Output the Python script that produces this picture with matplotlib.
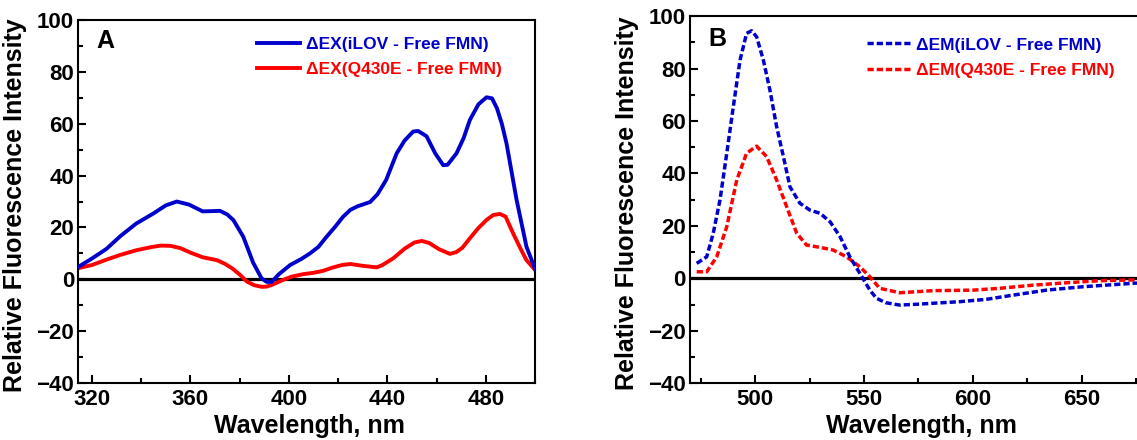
import matplotlib
matplotlib.use("Agg")
import matplotlib.pyplot as plt
from matplotlib.ticker import MultipleLocator

plt.rcParams['font.family'] = ['Liberation Sans', 'DejaVu Sans']
plt.rcParams['font.weight'] = 'bold'

# panel A: excitation difference spectra
ex_wl_ilov = [314.5, 320, 326, 331.5, 338, 345, 350, 354.5, 359.5, 365, 369, 372, 375,
              377.5, 381.5, 385.5, 388.9, 391, 393, 396, 400.5, 405, 408.6, 412, 415.3,
              419, 422, 425, 428, 433, 436, 439.5, 443.8, 447, 450.5, 452.5, 455.9,
              459.5, 462.7, 464.5, 468.1, 471, 473.5, 477, 480.3, 482.5, 484.5, 486.5,
              488.4, 492.5, 496.5, 500]
ex_ilov = [4.8, 8.0, 11.8, 16.6, 21.5, 25.4, 28.5, 30.0, 28.8, 26.2, 26.3, 26.4, 25.0,
           22.8, 16.4, 6.4, 0.4, -1.0, -1.0, 2.0, 5.5, 7.8, 10.0, 12.5, 16.4,
           20.5, 24.1, 26.8, 28.2, 29.8, 32.8, 38.3, 48.6, 53.5, 57.0, 57.2, 55.2,
           48.5, 44.0, 44.2, 48.6, 54.5, 61.4, 67.5, 70.2, 69.8, 66.0, 60.0,
           52.4, 30.6, 12.6, 4.0]

ex_wl_q430e = [314.5, 320, 326, 331.5, 338, 344, 348, 352, 356, 360, 365, 370.7, 374,
               377, 380.2, 383, 386, 389, 391, 393, 397.5, 401, 405.9, 410, 414, 418,
               422, 425, 430, 435.7, 438, 442.4, 447, 451, 454, 457, 461, 465.4, 468,
               470.5, 473.5, 477, 480.3, 483, 485.7, 488, 491.1, 494, 496.5, 500]
ex_q430e = [4.3, 5.5, 7.6, 9.4, 11.2, 12.4, 13.0, 12.9, 12.0, 10.3, 8.5, 7.4, 6.0,
            4.2, 1.7, -0.9, -2.3, -2.9, -2.8, -2.2, -0.3, 1.0, 2.0, 2.5, 3.3, 4.6,
            5.6, 5.9, 5.2, 4.6, 5.5, 8.1, 11.8, 14.2, 14.8, 14.0, 11.6, 9.8, 10.5,
            12.2, 15.8, 19.8, 22.9, 24.8, 25.2, 24.2, 17.7, 12.0, 7.4, 3.6]

# panel B: emission difference spectra
em_wl_ilov = [473.2, 477.8, 480.8, 483.9, 487, 490, 493.1, 496.1, 498.4, 500.7, 503.8,
              506.8, 509.9, 513, 516, 520.6, 525.2, 529.8, 534.4, 539, 543.5, 548.1,
              552.7, 555.7, 560, 566.4, 574, 581.7, 594, 606.2, 618.5, 633.7, 650.5,
              673.4, 690]
em_ilov = [5.7, 8.2, 17.2, 29.9, 47.7, 65.4, 83.2, 93.4, 94.4, 92.1, 83.2,
           71.8, 57.8, 46.4, 34.9, 28.6, 26.0, 24.8, 21.6, 15.9, 8.2, 1.9,
           -4.5, -7.6, -9.3, -10.2, -9.9, -9.5, -8.9, -8.0, -6.4, -4.5, -3.2,
           -1.9, -1.3]

em_wl_q430e = [473.2, 477.8, 482.4, 487, 491.6, 496.1, 500.7, 505.3, 509.9, 514.5,
               519.1, 523.6, 529.8, 535.8, 542, 548.1, 552.7, 557.2, 566.4, 581.7,
               600, 612.3, 627.6, 642.9, 658.2, 673.4, 690]
em_q430e = [2.5, 2.5, 8.2, 19.7, 37.5, 47.7, 50.4, 46.4, 37.5, 27.3,
            17.2, 12.7, 11.8, 10.8, 8.2, 4.4, 0.6, -3.8, -5.5, -4.7,
            -4.5, -3.8, -2.6, -1.7, -0.9, -0.6, -0.4]

blue = '#0000CC'
red = '#FF0000'

fig = plt.figure(figsize=(11.37, 4.4), dpi=100)
axA = fig.add_axes([0.0689, 0.1295, 0.4017, 0.825])
axB = fig.add_axes([0.607, 0.129, 0.402, 0.8345])

dash = (0, (1.8, 0.85))

axA.axhline(0, color='k', lw=2.3, zorder=1)
axA.plot(ex_wl_ilov, ex_ilov, color=blue, lw=2.8, label='ΔEX(iLOV - Free FMN)', zorder=3)
axA.plot(ex_wl_q430e, ex_q430e, color=red, lw=2.8, label='ΔEX(Q430E - Free FMN)', zorder=2)

axB.axhline(0, color='k', lw=2.3, zorder=1)
axB.plot(em_wl_ilov, em_ilov, color=blue, lw=2.5, ls=dash, label='ΔEM(iLOV - Free FMN)', zorder=3)
axB.plot(em_wl_q430e, em_q430e, color=red, lw=2.5, ls=dash, label='ΔEM(Q430E - Free FMN)', zorder=2)

axA.set_xlim(314.5, 500)
axA.xaxis.set_major_locator(MultipleLocator(40))
axA.xaxis.set_minor_locator(MultipleLocator(20))
axB.set_xlim(470.2, 680)
axB.xaxis.set_major_locator(MultipleLocator(50))
axB.xaxis.set_minor_locator(MultipleLocator(25))

for ax, letter, ly in [(axA, 'A', 0.942), (axB, 'B', 0.937)]:
    ax.set_ylim(-40, 100)
    ax.yaxis.set_major_locator(MultipleLocator(20))
    ax.yaxis.set_minor_locator(MultipleLocator(10))
    for s in ax.spines.values():
        s.set_linewidth(1.5)
    ax.tick_params(which='both', direction='in', width=1.5, labelsize=16)
    ax.tick_params(which='major', length=6)
    ax.tick_params(which='minor', length=3.5)
    ax.tick_params(axis='y', pad=3)
    ax.tick_params(axis='x', pad=4)
    ax.set_xlabel('Wavelength, nm', fontsize=18, fontweight='bold')
    ax.set_ylabel('Relative Fluorescence Intensity', fontsize=18, fontweight='bold')
    ax.xaxis.set_label_coords(0.505, -0.085)
    ax.yaxis.set_label_coords(-0.112, 0.49)
    ax.text(0.04, ly, letter, transform=ax.transAxes, fontsize=18,
            fontweight='bold', va='center', ha='left')

axA.legend(loc='upper left', bbox_to_anchor=(0.391, 0.954), frameon=False,
           borderpad=0, borderaxespad=0, handlelength=2.5, handletextpad=0.3,
           labelspacing=0.6, fontsize=12.5, labelcolor='linecolor')
axB.legend(loc='upper left', bbox_to_anchor=(0.387, 0.942), frameon=False,
           borderpad=0, borderaxespad=0, handlelength=2.5, handletextpad=0.3,
           labelspacing=0.6, fontsize=12.5, labelcolor='linecolor')

fig.savefig('out.png', dpi=100)
